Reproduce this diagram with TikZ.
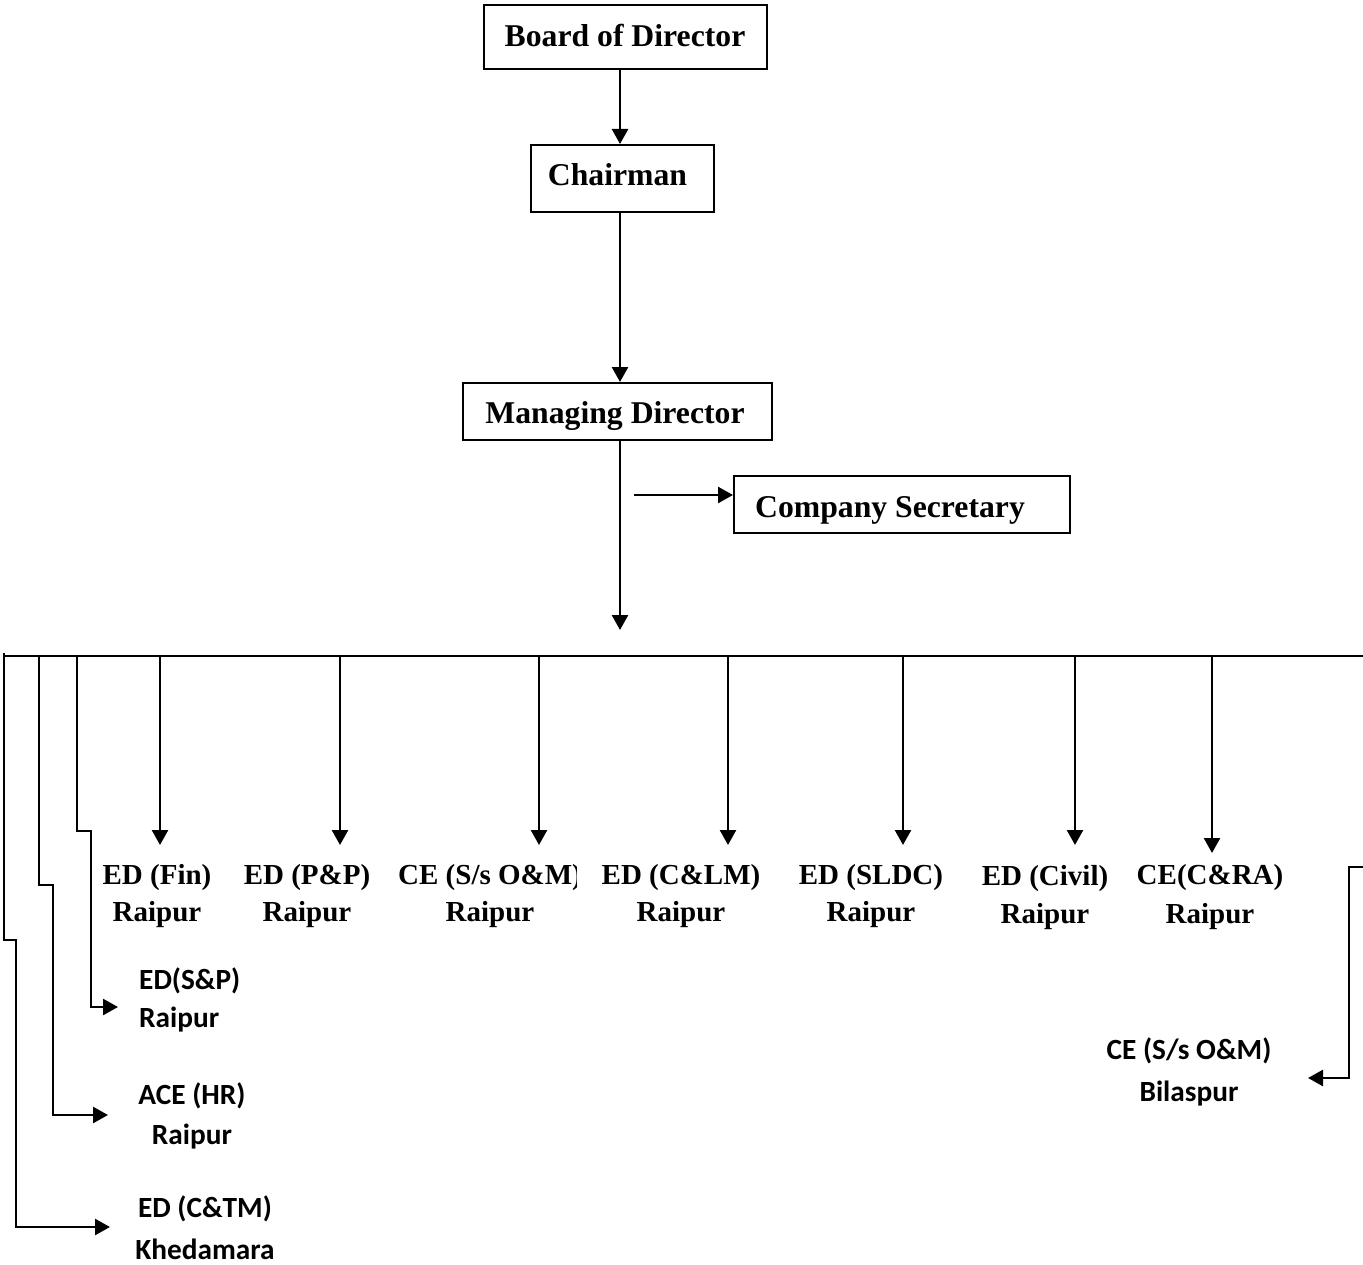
\documentclass[tikz,border=0pt]{standalone}
\usepackage{fontspec}
\setmainfont{Liberation Serif}
\newfontfamily\calibrifont{Carlito}
\usetikzlibrary{arrows.meta}
\begin{document}
\begin{tikzpicture}[x=1pt,y=-1pt,
  conn/.style={line width=2.5pt},
  arr/.style={conn,-{Triangle[length=15pt,width=16pt]}},
  boxstyle/.style={draw,line width=2pt,inner sep=0pt},
  boxtext/.style={font=\fontsize{31.7}{38}\selectfont\bfseries,anchor=base,inner sep=0pt},
  rowtext/.style={font=\fontsize{29}{34}\selectfont\bfseries,anchor=base,inner sep=0pt},
  sanstext/.style={font=\calibrifont\fontsize{29.3}{34}\selectfont\bfseries,anchor=base,inner sep=0pt}]
\useasboundingbox (0,0) rectangle (1363,1265);

% boxes
\node[boxstyle,minimum width=283pt,minimum height=64pt] (bod) at (625.5,37) {};
\node[boxtext] (bodt) at (625,47) {Board of Director};
\node[boxstyle,minimum width=183pt,minimum height=67pt] (chair) at (622.5,178.5) {};
\node[boxtext] (chairt) at (617.5,186) {Chairman};
\node[boxstyle,minimum width=309pt,minimum height=57pt] (md) at (617.5,411.5) {};
\node[boxtext] (mdt) at (615,423) {Managing Director};
\node[boxstyle,minimum width=336pt,minimum height=57pt] (cs) at (902,504.5) {};
\node[boxtext] (cst) at (890,517) {Company Secretary};

% spine
\coordinate (spn) at (620,0);
\draw[arr] (bod.south -| spn) -- (chair.north -| spn);
\draw[arr] (chair.south -| spn) -- (md.north -| spn);
\coordinate (mdend) at (620,630);
\draw[arr] (md.south -| spn) -- (mdend);
\coordinate (csfrom) at (634,495);
\draw[arr] (csfrom) -- (csfrom -| cs.west);

% bus
\coordinate (busL) at (4,656);
\coordinate (busR) at (1363,656);
\draw[conn] (busL) -- (busR);

% down arrows
\foreach \x/\n/\yy in {160/t1/845,340/t2/845,539/t3/845,728/t4/845,903/t5/845,1075/t6/845,1212/t7/853}{
  \coordinate (\n) at (\x,\yy);
  \draw[arr] (\n |- busL) -- (\n);
}

% row labels
\node[rowtext] (fin) at (157,884) {ED (Fin)};
\node[rowtext] (finr) at (157,921) {Raipur};
\node[rowtext] (pp) at (307,884) {ED (P\&P)};
\node[rowtext] (ppr) at (307,921) {Raipur};
\begin{scope}
\clip (380,850) rectangle (576,900);
\node[rowtext,anchor=base west] (ssom) at (398,884) {CE (S/s O\&M)};
\end{scope}
\node[rowtext] (ssomr) at (490,921) {Raipur};
\node[rowtext] (clm) at (681,884) {ED (C\&LM)};
\node[rowtext] (clmr) at (681,921) {Raipur};
\node[rowtext] (sldc) at (871,884) {ED (SLDC)};
\node[rowtext] (sldcr) at (871,921) {Raipur};
\node[rowtext] (civ) at (1045,885) {ED (Civil)};
\node[rowtext] (civr) at (1045,923) {Raipur};
\node[rowtext] (cra) at (1210,884) {CE(C\&RA)};
\node[rowtext] (crar) at (1210,923) {Raipur};

% sans labels
\node[sanstext,anchor=base west] (snp) at (139,989) {ED(S\&P)};
\node[sanstext,anchor=base west] (snpr) at (139,1027) {Raipur};
\node[sanstext] (hr) at (192,1104) {ACE (HR)};
\node[sanstext] (hrr) at (192,1144) {Raipur};
\node[sanstext] (ctm) at (205,1217) {ED (C\&TM)};
\node[sanstext] (ctmr) at (205,1259) {Khedamara};
\node[sanstext] (bsom) at (1189,1059) {CE (S/s O\&M)};
\node[sanstext] (bsomr) at (1189,1101) {Bilaspur};

% left steps
\coordinate (la) at (77,656);
\coordinate (lae) at (118,1007);
\draw[arr] (la) -- ++(0,175) -- ++(14,0) |- (lae);
\coordinate (lb) at (39,656);
\coordinate (lbe) at (108,1115);
\draw[arr] (lb) -- ++(0,229) -- ++(14,0) |- (lbe);
\coordinate (lc) at (4,653);
\coordinate (lce) at (110,1227);
\draw[arr] (lc) -- ++(0,287) -- ++(12,0) |- (lce);

% right step
\coordinate (rs) at (1363,867);
\coordinate (re) at (1308,1078);
\draw[arr] (rs) -- ++(-14,0) |- (re);
\end{tikzpicture}
\end{document}
